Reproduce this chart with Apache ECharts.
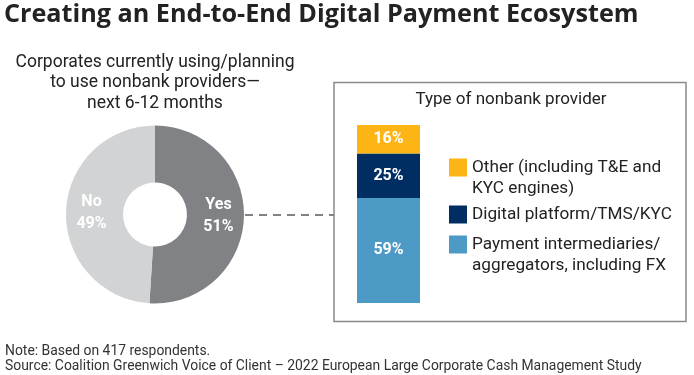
<!DOCTYPE html>
<html>
<head>
<meta charset="utf-8">
<script src="https://cdn.jsdelivr.net/npm/echarts@6/dist/echarts.min.js"></script>
<style>
  html, body { margin: 0; padding: 0; background: #fff; }
  #chart { width: 694px; height: 375px; }
</style>
</head>
<body>
<div id="chart"></div>
<script>
// pie: corporates using / planning to use nonbank providers
var pieNames = ['Yes', 'No']
var pieValues = [51, 49]
var pieColors = ['#808285', '#d1d3d4']

// stacked bar: type of nonbank provider (bottom to top)
var barNames = ['Payment intermediaries/\naggregators, including FX', 'Digital platform/TMS/KYC', 'Other (including T&E and\nKYC engines)']
var barValues = [59, 25, 16]
var barColors = ['#4d9ac6', '#002d62', '#fdb515']

var FONT = 'Roboto'

var chart = echarts.init(document.getElementById('chart'), null, { renderer: 'canvas' })

// one legend per item so each block sits where the reference puts it;
// two-line items get a tall icon box with the square drawn in its top part
function legendFor(i, top) {
  var multi = barNames[i].indexOf('\n') >= 0
  return {
    data: [barNames[i]],
    orient: 'vertical',
    left: 449,
    top: top,
    padding: 0,
    icon: multi ? 'path://M0 0H18V18H0ZM0 39H18V39H0Z' : 'rect',
    itemWidth: 18,
    itemHeight: multi ? 39 : 18,
    itemGap: 6,
    selectedMode: false,
    textStyle: {
      fontFamily: FONT,
      fontSize: 17.2,
      color: '#222',
      lineHeight: 21
    }
  }
}

chart.setOption({
  animation: false,
  title: [
    {
      text: 'Creating an End-to-End Digital Payment Ecosystem',
      left: 4, top: 2, padding: 0,
      textStyle: { fontFamily: 'Open Sans', fontSize: 25.2, fontWeight: 'bold', color: '#222' }
    },
    {
      text: 'Corporates currently using/planning\nto use nonbank providers\u2014\nnext 6-12 months',
      left: 155, top: 52, padding: 0, textAlign: 'center',
      textStyle: { fontFamily: FONT, fontSize: 17.5, fontWeight: 'normal', color: '#222', lineHeight: 20.5 }
    },
    {
      text: 'Type of nonbank provider',
      left: 511, top: 91, padding: 0, textAlign: 'center',
      textStyle: { fontFamily: FONT, fontSize: 17, fontWeight: 'normal', color: '#222' }
    },
    {
      text: 'Note: Based on 417 respondents.\nSource: Coalition Greenwich Voice of Client \u2013 2022 European Large Corporate Cash Management Study',
      left: 5, top: 344, padding: 0,
      textStyle: { fontFamily: FONT, fontSize: 13.9, fontWeight: 'normal', color: '#333', lineHeight: 15 }
    }
  ],
  legend: [legendFor(2, 157), legendFor(1, 204), legendFor(0, 234)],
  grid: { left: 357, top: 125, width: 63, height: 178 },
  xAxis: { type: 'category', data: ['nonbank'], show: false },
  yAxis: { type: 'value', min: 0, max: 100, show: false },
  graphic: [
    {
      type: 'rect',
      shape: { x: 334, y: 82.5, width: 352, height: 239 },
      style: { fill: 'none', stroke: '#8a8a8a', lineWidth: 1.5 },
      silent: true
    },
    {
      type: 'line',
      shape: { x1: 245, y1: 215, x2: 334, y2: 215 },
      style: { stroke: '#808285', lineWidth: 2, lineDash: [8, 6] },
      silent: true
    }
  ],
  series: [
    {
      type: 'pie',
      center: [155, 214.5],
      radius: [32, 89],
      startAngle: 90,
      clockwise: true,
      silent: true,
      data: pieNames.map(function (n, i) {
        return { name: n, value: pieValues[i], itemStyle: { color: pieColors[i] } }
      }),
      label: {
        position: 'inside',
        formatter: function (p) { return p.name + '\n' + p.value + '%' },
        color: '#fff',
        fontFamily: FONT,
        fontSize: 16,
        fontWeight: 'bold',
        lineHeight: 22
      },
      labelLine: { show: false }
    }
  ].concat(barNames.map(function (n, i) {
    return {
      type: 'bar',
      name: n,
      stack: 'type',
      barWidth: 63,
      silent: true,
      data: [barValues[i]],
      itemStyle: { color: barColors[i] },
      label: {
        show: true,
        position: 'inside',
        formatter: '{c}%',
        color: '#fff',
        fontFamily: FONT,
        fontSize: 16,
        fontWeight: 'bold'
      }
    }
  }))
})
</script>
</body>
</html>
